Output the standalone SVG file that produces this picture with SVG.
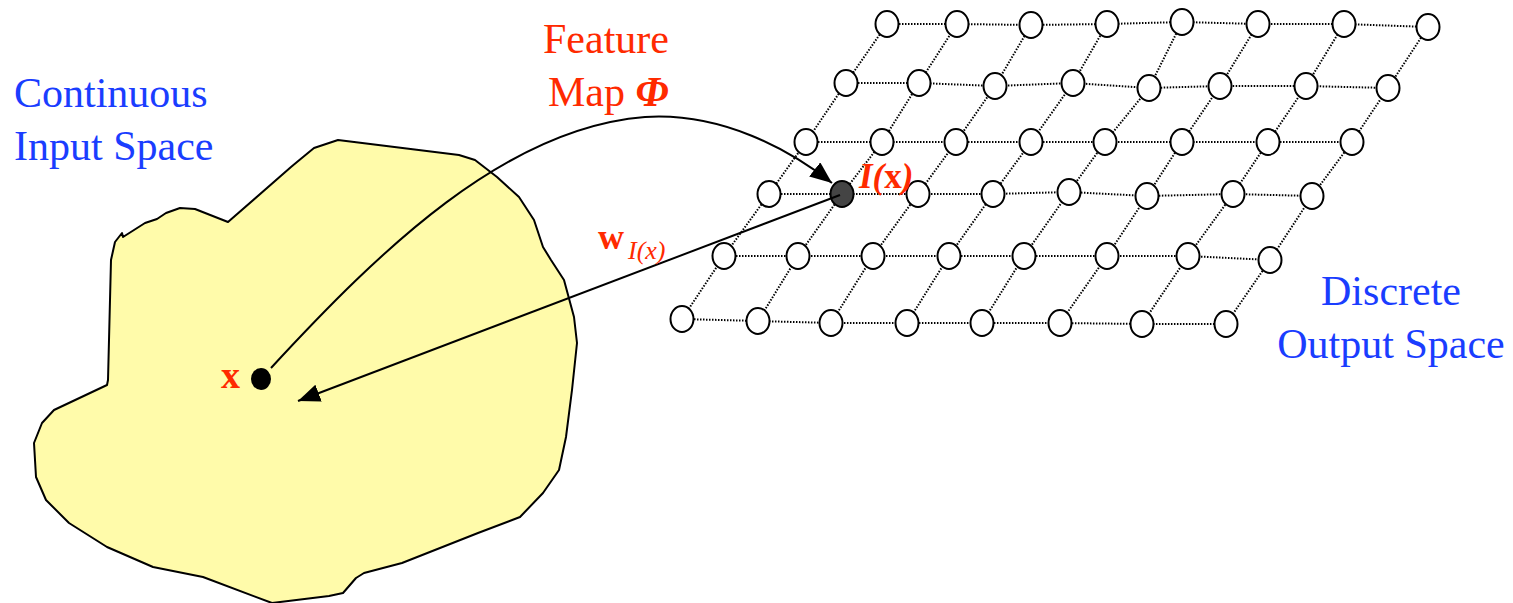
<svg xmlns="http://www.w3.org/2000/svg" width="1513" height="603" viewBox="0 0 1513 603">
  <style>
    .lbl-blue { font-family: "Liberation Serif", "Times New Roman", serif; font-size: 42px; fill: #1a3dff; }
    .lbl-red { font-family: "Liberation Serif", "Times New Roman", serif; fill: #ff2a00; }
    .grid-line { stroke: #000; stroke-width: 2; stroke-dasharray: 1.5 1.5; fill: none; }
    .unit { fill: #fff; stroke: #000; stroke-width: 2; }
    .conn { stroke: #000; stroke-width: 2; fill: none; }
  </style>
  <defs>
    <marker id="arrow" markerUnits="userSpaceOnUse" markerWidth="24" markerHeight="20" refX="22" refY="9" orient="auto">
      <path d="M0,0 L22,9 L0,18 Z" fill="#000"/>
    </marker>
  </defs>

  <rect width="1513" height="603" fill="#fff"/>

  <!-- input space region -->
  <g id="input-space">
    <path d="M338,140 L459,155 L475,160 L497,177 L519,197 L534,220 L543,247 L551,260 L564,280 L574,317 L577,343 L572,390 L566,437 L559,470 L543,493 L520,517 L478,533 L402,563 L364,573 L356,578 L343,593 L329,596 L272,603 L203,577 L153,567 L107,547 L69,523 L46,500 L36,477 L34,443 L42,423 L54,410 L107,385 L108,380 L111,260 L115,242 L122,233 L123,237 L145,223 L157,219 L166,213 L180,208 L195,209 L228,222 L291,167 L297,162 L314,148 Z" fill="#fffbaa" stroke="#000" stroke-width="2" stroke-linejoin="round"/>
  </g>

  <!-- dotted lattice of the output map -->
  <g id="lattice-lines">
    <polyline class="grid-line" points="887,24 957,24 1031,25 1107,24 1182,22 1258,24 1344,24 1428,27"/>
    <polyline class="grid-line" points="846,83 919,83 995,86 1073,83 1149,88 1220,86 1306,86 1388,88"/>
    <polyline class="grid-line" points="806,142 882,142 956,142 1031,142 1105,142 1182,142 1268,142 1352,142"/>
    <polyline class="grid-line" points="769,194 842,194 918,194 993,194 1069,192 1147,196 1233,194 1312,196"/>
    <polyline class="grid-line" points="724,256 798,256 873,256 949,256 1024,256 1107,256 1188,256 1270,260"/>
    <polyline class="grid-line" points="682,319 758,321 831,323 907,323 982,323 1060,323 1142,324 1226,324"/>
    <polyline class="grid-line" points="682,319 724,256 769,194 806,142 846,83 887,24"/>
    <polyline class="grid-line" points="758,321 798,256 842,194 882,142 919,83 957,24"/>
    <polyline class="grid-line" points="831,323 873,256 918,194 956,142 995,86 1031,25"/>
    <polyline class="grid-line" points="907,323 949,256 993,194 1031,142 1073,83 1107,24"/>
    <polyline class="grid-line" points="982,323 1024,256 1069,192 1105,142 1149,88 1182,22"/>
    <polyline class="grid-line" points="1060,323 1107,256 1147,196 1182,142 1220,86 1258,24"/>
    <polyline class="grid-line" points="1142,324 1188,256 1233,194 1268,142 1306,86 1344,24"/>
    <polyline class="grid-line" points="1226,324 1270,260 1312,196 1352,142 1388,88 1428,27"/>
  </g>

  <!-- output units -->
  <g id="units">
    <ellipse class="unit" cx="887" cy="24" rx="11.5" ry="13"/>
    <ellipse class="unit" cx="957" cy="24" rx="11.5" ry="13"/>
    <ellipse class="unit" cx="1031" cy="25" rx="11.5" ry="13"/>
    <ellipse class="unit" cx="1107" cy="24" rx="11.5" ry="13"/>
    <ellipse class="unit" cx="1182" cy="22" rx="11.5" ry="13"/>
    <ellipse class="unit" cx="1258" cy="24" rx="11.5" ry="13"/>
    <ellipse class="unit" cx="1344" cy="24" rx="11.5" ry="13"/>
    <ellipse class="unit" cx="1428" cy="27" rx="11.5" ry="13"/>

    <ellipse class="unit" cx="846" cy="83" rx="11.5" ry="13"/>
    <ellipse class="unit" cx="919" cy="83" rx="11.5" ry="13"/>
    <ellipse class="unit" cx="995" cy="86" rx="11.5" ry="13"/>
    <ellipse class="unit" cx="1073" cy="83" rx="11.5" ry="13"/>
    <ellipse class="unit" cx="1149" cy="88" rx="11.5" ry="13"/>
    <ellipse class="unit" cx="1220" cy="86" rx="11.5" ry="13"/>
    <ellipse class="unit" cx="1306" cy="86" rx="11.5" ry="13"/>
    <ellipse class="unit" cx="1388" cy="88" rx="11.5" ry="13"/>

    <ellipse class="unit" cx="806" cy="142" rx="11.5" ry="13"/>
    <ellipse class="unit" cx="882" cy="142" rx="11.5" ry="13"/>
    <ellipse class="unit" cx="956" cy="142" rx="11.5" ry="13"/>
    <ellipse class="unit" cx="1031" cy="142" rx="11.5" ry="13"/>
    <ellipse class="unit" cx="1105" cy="142" rx="11.5" ry="13"/>
    <ellipse class="unit" cx="1182" cy="142" rx="11.5" ry="13"/>
    <ellipse class="unit" cx="1268" cy="142" rx="11.5" ry="13"/>
    <ellipse class="unit" cx="1352" cy="142" rx="11.5" ry="13"/>

    <ellipse class="unit" cx="769" cy="194" rx="11.5" ry="13"/>
    <ellipse class="unit" cx="918" cy="194" rx="11.5" ry="13"/>
    <ellipse class="unit" cx="993" cy="194" rx="11.5" ry="13"/>
    <ellipse class="unit" cx="1069" cy="192" rx="11.5" ry="13"/>
    <ellipse class="unit" cx="1147" cy="196" rx="11.5" ry="13"/>
    <ellipse class="unit" cx="1233" cy="194" rx="11.5" ry="13"/>
    <ellipse class="unit" cx="1312" cy="196" rx="11.5" ry="13"/>

    <ellipse class="unit" cx="724" cy="256" rx="11.5" ry="13"/>
    <ellipse class="unit" cx="798" cy="256" rx="11.5" ry="13"/>
    <ellipse class="unit" cx="873" cy="256" rx="11.5" ry="13"/>
    <ellipse class="unit" cx="949" cy="256" rx="11.5" ry="13"/>
    <ellipse class="unit" cx="1024" cy="256" rx="11.5" ry="13"/>
    <ellipse class="unit" cx="1107" cy="256" rx="11.5" ry="13"/>
    <ellipse class="unit" cx="1188" cy="256" rx="11.5" ry="13"/>
    <ellipse class="unit" cx="1270" cy="260" rx="11.5" ry="13"/>

    <ellipse class="unit" cx="682" cy="319" rx="11.5" ry="13"/>
    <ellipse class="unit" cx="758" cy="321" rx="11.5" ry="13"/>
    <ellipse class="unit" cx="831" cy="323" rx="11.5" ry="13"/>
    <ellipse class="unit" cx="907" cy="323" rx="11.5" ry="13"/>
    <ellipse class="unit" cx="982" cy="323" rx="11.5" ry="13"/>
    <ellipse class="unit" cx="1060" cy="323" rx="11.5" ry="13"/>
    <ellipse class="unit" cx="1142" cy="324" rx="11.5" ry="13"/>
    <ellipse class="unit" cx="1226" cy="324" rx="11.5" ry="13"/>
  </g>

  <!-- winning unit I(x) -->
  <g id="winner">
    <ellipse cx="842" cy="194" rx="11.5" ry="13" fill="#444" stroke="#000" stroke-width="2"/>
  </g>

  <!-- input sample x -->
  <g id="sample">
    <ellipse cx="261" cy="379" rx="10" ry="11" fill="#000"/>
  </g>

  <!-- feature map and weight vector arrows -->
  <g id="connectors">
    <path class="conn" d="M271,368 C380,250 505,128 645,117 C722,112 790,150 832,183" marker-end="url(#arrow)"/>
    <path class="conn" d="M840,195 L298,401" marker-end="url(#arrow)"/>
  </g>

  <!-- labels -->
  <g id="label-input">
    <text class="lbl-blue" x="14" y="107">Continuous</text>
    <text class="lbl-blue" x="14" y="160">Input Space</text>
  </g>
  <g id="label-output">
    <text class="lbl-blue" x="1391" y="305" text-anchor="middle">Discrete</text>
    <text class="lbl-blue" x="1391" y="358" text-anchor="middle">Output Space</text>
  </g>
  <g id="label-map">
    <text class="lbl-red" x="543" y="53" font-size="42">Feature</text>
    <text class="lbl-red" x="548" y="106" font-size="42">Map <tspan font-style="italic" font-weight="bold">Φ</tspan></text>
  </g>
  <g id="label-x">
    <text class="lbl-red" x="221" y="388" font-size="38" font-weight="bold">x</text>
  </g>
  <g id="label-winner">
    <text class="lbl-red" x="859" y="188" font-size="35" font-weight="bold"><tspan font-style="italic">I(</tspan>x<tspan font-style="italic">)</tspan></text>
  </g>
  <g id="label-weight">
    <text class="lbl-red" x="598" y="249" font-size="36" font-weight="bold">w</text>
    <text class="lbl-red" x="628" y="259" font-size="26" font-style="italic">I(x)</text>
  </g>
</svg>
